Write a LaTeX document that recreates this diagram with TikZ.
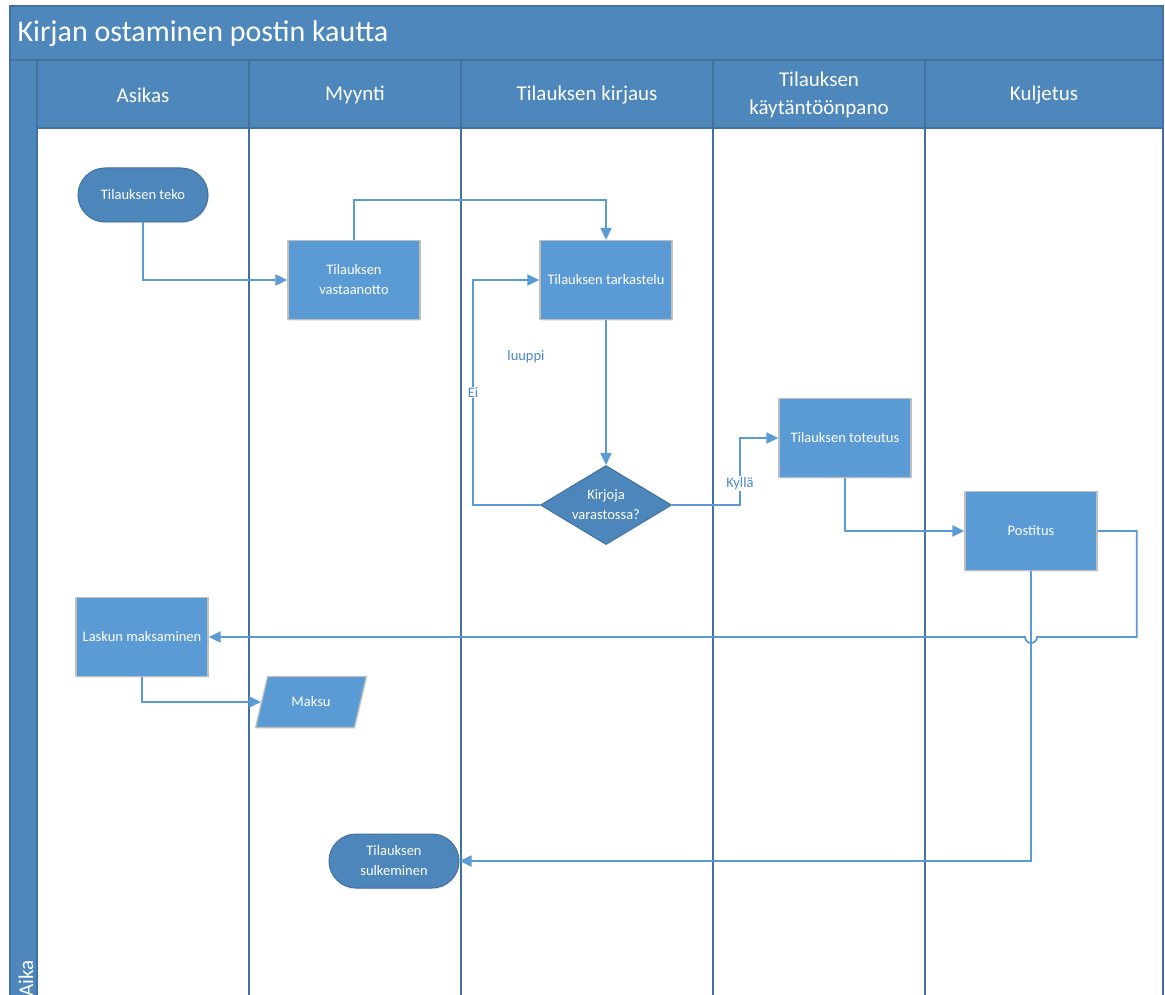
\documentclass[tikz,border=0pt]{standalone}
\usepackage{fontspec}
\setmainfont{Carlito}
\usetikzlibrary{shapes.geometric,shapes.misc,arrows.meta,shadows,calc}

\definecolor{hdrfill}{HTML}{4E87BC}
\definecolor{hdrline}{HTML}{41719C}
\definecolor{procfill}{HTML}{5B9BD5}
\definecolor{procline}{HTML}{BFBFBF}
\definecolor{termfill}{HTML}{4D86BB}
\definecolor{termline}{HTML}{41719C}
\definecolor{connc}{HTML}{5B9BD5}
\definecolor{lblc}{HTML}{4A86C8}

\tikzset{
  nodefont/.style={font=\fontsize{14.5}{20}\selectfont, text=white, align=center},
  soft/.style={drop shadow={opacity=0.15, shadow xshift=1pt, shadow yshift=-1.5pt}},
  procbox/.style={rectangle, nodefont, soft, fill=procfill, draw=procline, line width=1.3pt,
    minimum width=132pt, minimum height=79pt, inner sep=2pt},
  termbox/.style={rounded rectangle, nodefont, soft, fill=termfill, draw=termline, line width=1pt,
    minimum width=134pt, minimum height=54pt, inner sep=2pt},
  decbox/.style={diamond, nodefont, soft, fill=termfill, draw=termline, line width=1pt,
    aspect=1.66, inner sep=0pt, minimum width=131pt, minimum height=79pt},
  iobox/.style={trapezium, nodefont, soft, fill=procfill, draw=procline, line width=1.3pt,
    trapezium left angle=62, trapezium right angle=118, trapezium stretches=true,
    minimum width=111pt, minimum height=51pt, inner sep=0pt},
  conn/.style={draw=connc, line width=1.8pt, -{Triangle[length=12pt,width=11pt]}},
  connlbl/.style={font=\fontsize{14.5}{17}\selectfont, text=lblc, inner sep=1pt},
  lanehead/.style={font=\fontsize{21}{28}\selectfont, text=white, align=center},
  laneline/.style={draw=hdrline, line width=1.5pt},
}

\begin{document}
\begin{tikzpicture}[x=1pt,y=-1pt]
  \useasboundingbox (0,0) rectangle (1165,995);
  \fill[white] (0,0) rectangle (1165,995);

  % pool title bar
  \draw[fill=hdrfill, draw=hdrline, line width=1.5pt] (10,6) rectangle (1163,60);
  \node[anchor=west, text=white, font=\fontsize{30}{36}\selectfont] (title) at (14,34) {Kirjan ostaminen postin kautta};

  % time strip on the left
  \draw[fill=hdrfill, draw=hdrline, line width=1.5pt] (10,60) rectangle (37,1000);
  \node[rotate=90, anchor=west, text=white, font=\fontsize{21}{25}\selectfont, inner sep=0pt] (aika) at (26,997) {Aika};

  % lane headers
  \foreach \xa/\xb in {37/249, 249/461, 461/713, 713/925, 925/1163}
    \draw[fill=hdrfill, draw=hdrline, line width=1.5pt] (\xa,60) rectangle (\xb,128);
  \node[lanehead] (h1) at (143,95) {Asikas};
  \node[lanehead] (h2) at (355,95) {Myynti};
  \node[lanehead] (h3) at (587,95) {Tilauksen kirjaus};
  \node[lanehead] (h4) at (819,95) {Tilauksen\\käytäntöönpano};
  \node[lanehead] (h5) at (1044,95) {Kuljetus};

  % lane separators
  \foreach \x in {37, 249, 461, 713, 925, 1163}
    \draw[laneline] (\x,128) -- (\x,1000);

  % flow shapes
  \node[termbox] (teko) at (143,195) {Tilauksen teko};
  \node[procbox] (vast) at (354,280) {Tilauksen\\vastaanotto};
  \node[procbox] (tark) at (606,280) {Tilauksen tarkastelu};
  \node[decbox]  (dec)  at (606,505) {Kirjoja\\varastossa?};
  \node[procbox] (tot)  at (845,438) {Tilauksen toteutus};
  \node[procbox] (post) at (1031,531) {Postitus};
  \node[procbox] (lasku) at (142,637) {Laskun maksaminen};
  \node[iobox]   (maksu) at (311,702) {Maksu};
  \node[termbox] (sulk) at (394,861) {Tilauksen\\sulkeminen};

  % connectors
  \draw[conn] (teko.south) |- (vast.west);
  \draw[conn] (vast.north) -- ++(0,-40) -| (tark.north);
  \draw[conn] (tark.south) -- (dec.north);
  \draw[conn] (dec.west) -- ++(-67,0) |- (tark.west)
    node[connlbl, fill=white, pos=0.25] (ei) {Ei};
  \draw[conn] (dec.east) -- ++(68,0) |- (tot.west)
    node[connlbl, fill=white, pos=0.16] (kylla) {Kyllä};
  \draw[conn] (tot.south) |- (post.west);

  % return line to the invoice step, hopping over the closing line
  \coordinate (jr) at ($(post.south |- lasku.east)+(6,0)$);
  \coordinate (jl) at ($(post.south |- lasku.east)+(-6,0)$);
  \draw[conn] (post.east) -- ++(39,0) |- (jr)
    arc[start angle=0, end angle=-180, radius=6pt] -- (lasku.east);
  \draw[conn] (post.south) |- (sulk.east);
  \draw[conn] (lasku.south) |- (maksu.left side);

  \node[connlbl] (luuppi) at (526,357) {luuppi};
\end{tikzpicture}
\end{document}
